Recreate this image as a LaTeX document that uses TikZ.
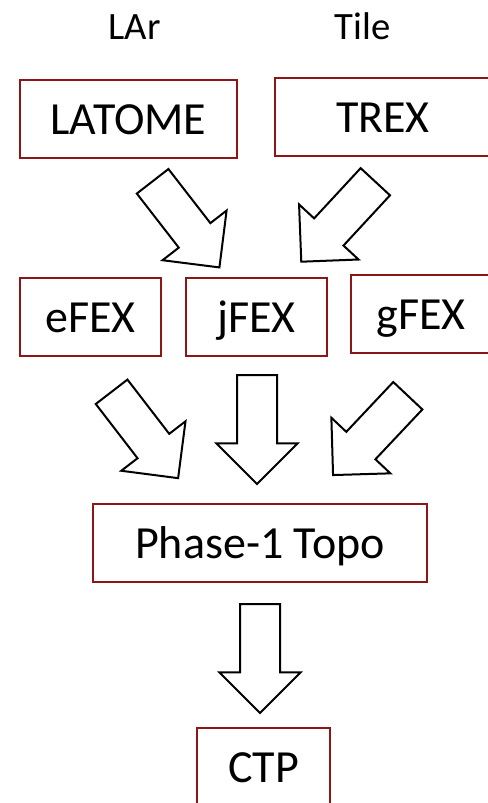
\documentclass[tikz,border=0pt]{standalone}
\usepackage{fontspec}
\setmainfont{Carlito}
\usepackage{tikz}
\usetikzlibrary{positioning,shapes.arrows}
\definecolor{boxred}{RGB}{140,22,22}
\tikzset{
  blk/.style={draw=boxred, line width=1.4pt, inner sep=0pt, text height=22.5pt, text depth=0pt,
              font=\fontsize{34.5}{40}\selectfont},
  srclbl/.style={inner sep=0pt, text height=18pt, text depth=0pt, font=\fontsize{29}{34}\selectfont},
  flow/.style={single arrow, draw=black, line width=1.5pt, fill=white, inner sep=14.25pt,
               minimum height=81.75pt, single arrow head extend=15.4pt, anchor=tail}
}
\begin{document}
\begin{tikzpicture}[x=0.75pt, y=-0.75pt]
\useasboundingbox (0,0) rectangle (488,803);
% detector sources
\node[srclbl] (lar) at (134.5,27) {LAr};
\node[srclbl] (tile) at (362.5,27) {Tile};
\node[blk, minimum width=162.75pt, minimum height=58.5pt] (latome) at (128.5,119) {LATOME};
\node[blk, minimum width=162pt, minimum height=58.5pt] (trex) at (383,117) {TREX};
% feature extractors
\node[blk, minimum width=105.75pt, minimum height=58.5pt] (efex) at (90.5,317) {eFEX};
\node[blk, minimum width=105.75pt, minimum height=58.5pt] (jfex) at (256.5,317) {jFEX};
\node[blk, minimum width=105pt, minimum height=58.5pt] (gfex) at (421,314) {gFEX};
\node[blk, minimum width=250.5pt, minimum height=58.5pt] (topo) at (260,543) {Phase-1 Topo};
\node[blk, minimum width=99.75pt, minimum height=58.5pt] (ctp) at (263.5,767) {CTP};
% block arrows
\node[flow, rotate=-52.2] (latome-jfex) at (152,180.5) {};
\node[flow, rotate=-132.8] (trex-jfex) at (376,181) {};
\node[flow, rotate=-52.4] (efex-topo) at (111,391) {};
\node[flow, rotate=-90] (jfex-topo) at (257,374) {};
\node[flow, rotate=-133.3] (gfex-topo) at (408.5,395) {};
\node[flow, rotate=-90] (topo-ctp) at (260,603) {};
\end{tikzpicture}
\end{document}
